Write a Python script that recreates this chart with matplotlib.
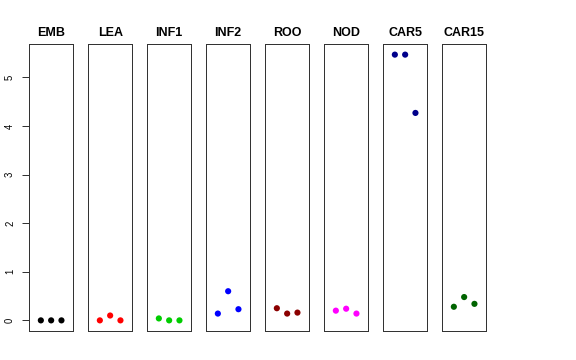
import matplotlib
matplotlib.use("Agg")
import matplotlib.pyplot as plt

categories = ["EMB", "LEA", "INF1", "INF2", "ROO", "NOD", "CAR5", "CAR15"]
values = [
    [0.0, 0.0, 0.0],
    [0.0, 0.1, 0.0],
    [0.04, 0.0, 0.0],
    [0.14, 0.6, 0.23],
    [0.25, 0.14, 0.16],
    [0.2, 0.24, 0.14],
    [5.47, 5.47, 4.27],
    [0.28, 0.48, 0.34],
]
colors = ["black", "red", "#00CD00", "blue", "#8B0000", "magenta", "#00008B", "#006400"]
yticks = [0, 1, 2, 3, 4, 5]

W, H = 576, 360
plt.rcParams['font.family'] = ['Liberation Sans', 'DejaVu Sans']
fig = plt.figure(figsize=(W / 72, H / 72), dpi=72)

allv = [v for row in values for v in row]
lo, hi = min(allv), max(allv)
r = hi - lo
ylim = (lo - 0.04 * r, hi + 0.04 * r)

left0, pw, step = 29, 44.3, 59
top_px, bot_px = 44, 331
for i, (cat, vals, col) in enumerate(zip(categories, values, colors)):
    x0 = left0 + i * step
    ax = fig.add_axes([x0 / W, (H - bot_px) / H, pw / W, (bot_px - top_px) / H])
    xs = [1, 2, 3]
    ax.scatter(xs, vals, s=38, color=col, edgecolors='none', zorder=3)
    ax.set_xlim(-0.15, 4.15)
    ax.set_ylim(*ylim)
    ax.set_xticks([])
    for sp in ax.spines.values():
        sp.set_linewidth(1.0)
        sp.set_color('#333333')
    ax.set_title(cat, fontsize=12.5, fontweight='bold', pad=8)
    if i == 0:
        ax.set_yticks(yticks)
        ax.set_yticklabels([str(t) for t in yticks], rotation=90, va='center', fontsize=9.5)
        ax.tick_params(axis='y', length=7, pad=7, width=0.8)
    else:
        ax.set_yticks([])

fig.savefig("out.png", dpi=72)
